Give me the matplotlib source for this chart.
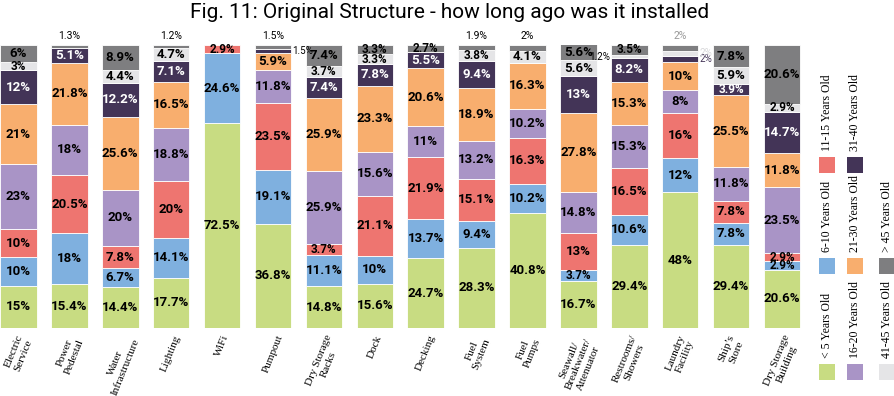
import matplotlib
matplotlib.use('Agg')
import matplotlib.pyplot as plt
from matplotlib.patches import Rectangle
from matplotlib import font_manager

categories = ["Electric\nService", "Power\nPedestal", "Water\nInfrastructure", "Lighting", "WiFi",
              "Pumpout", "Dry Storage\nRacks", "Dock", "Decking", "Fuel\nSystem", "Fuel\nPumps",
              "Seawall/\nBreakwater/\nAttenuator", "Restrooms/\nShowers", "Laundry\nFacility",
              "Ship\u2019s\nStore", "Dry Storage\nBuilding"]
series_names = ["< 5 Years Old", "6-10 Years Old", "11-15 Years Old", "16-20 Years Old",
                "21-30 Years Old", "31-40 Years Old", "41-45 Years Old", "> 45 Years Old"]
lt5    = [15, 15.4, 14.4, 17.7, 72.5, 36.8, 14.8, 15.6, 24.7, 28.3, 40.8, 16.7, 29.4, 48, 29.4, 20.6]
y6_10  = [10, 18, 6.7, 14.1, 24.6, 19.1, 11.1, 10, 13.7, 9.4, 10.2, 3.7, 10.6, 12, 7.8, 2.9]
y11_15 = [10, 20.5, 7.8, 20, 2.9, 23.5, 3.7, 21.1, 21.9, 15.1, 16.3, 13, 16.5, 16, 7.8, 2.9]
y16_20 = [23, 18, 20, 18.8, 0, 11.8, 25.9, 15.6, 11, 13.2, 10.2, 14.8, 15.3, 8, 11.8, 23.5]
y21_30 = [21, 21.8, 25.6, 16.5, 0, 5.9, 25.9, 23.3, 20.6, 18.9, 16.3, 27.8, 15.3, 10, 25.5, 11.8]
y31_40 = [12, 5.1, 12.2, 7.1, 0, 1.5, 7.4, 7.8, 5.5, 9.4, 0, 13, 8.2, 2, 3.9, 14.7]
y41_45 = [3, 0, 4.4, 4.7, 0, 0, 3.7, 3.3, 0, 3.8, 4.1, 5.6, 1.2, 2, 5.9, 2.9]
gt45   = [6, 1.3, 8.9, 1.2, 0, 1.5, 7.4, 3.3, 2.7, 1.9, 2, 5.6, 3.5, 2, 7.8, 20.6]
series = [lt5, y6_10, y11_15, y16_20, y21_30, y31_40, y41_45, gt45]

colors = ["#C8DC82", "#7FB0DF", "#EE7570", "#A994C6", "#F8AE6E", "#433457", "#E5E5E7", "#7E7E80"]

avail = {f.name for f in font_manager.fontManager.ttflist}
narrow = 'Liberation Sans Narrow' if 'Liberation Sans Narrow' in avail else 'Roboto'
serif = 'Liberation Serif'

W, H = 895, 396
fig = plt.figure(figsize=(W / 100, H / 100), dpi=100)
pitch = 50.9
left_px, right_px = 0, 810
top_px, bot_px = 45, 328
ax = fig.add_axes([left_px / W, 1 - bot_px / H, (right_px - left_px) / W, (bot_px - top_px) / H])
x0 = -18.5 / pitch
ax.set_xlim(x0, x0 + (right_px - left_px) / pitch)
ax.set_ylim(0, 100)
ax.axis('off')
bw = 36.5 / pitch

# label placement overrides for thin segments: (cat, series) -> (where, color)
overrides = {
    (5, 5): ('right', 'black'),
    (12, 6): ('left', 'black'),
    (13, 5): ('right', '#433457'),
    (13, 6): ('right', '#D8D8DA'),
    (13, 7): ('above', '#999999'),
}

n = len(categories)
for i in range(n):
    bottom = 0
    top_series = max(s for s in range(len(series)) if series[s][i] > 0)
    for s, vals in enumerate(series):
        v = vals[i]
        if v <= 0:
            continue
        ax.bar(i, v, bottom=bottom, width=bw, color=colors[s], edgecolor='white', linewidth=0.6)
        txt = f"{v:g}%"
        mid = bottom + v / 2
        if (i, s) in overrides:
            where, col = overrides[(i, s)]
        elif v < 2.5 and s == top_series:
            where, col = 'above', 'black'
        else:
            where, col = 'inside', ('white' if s == 5 else 'black')
        if where == 'inside':
            fs = 9.5 if v >= 4 else 8.5
            ax.text(i, mid, txt, ha='center', va='center', fontsize=fs, fontweight='bold',
                    family=narrow, color=col)
        elif where == 'above':
            ax.text(i, 101.5, txt, ha='center', va='bottom', fontsize=7.5,
                    family=narrow, color=col, clip_on=False)
        elif where == 'right':
            ax.text(i + bw / 2 + 0.02, mid, txt, ha='left', va='center', fontsize=7,
                    family=narrow, color=col, clip_on=False)
        elif where == 'left':
            ax.text(i - bw / 2 - 0.02, mid, txt, ha='right', va='center', fontsize=7,
                    family=narrow, color=col, clip_on=False)
        bottom += v
    ax.text(i, -2.0, categories[i], rotation=68, ha='center', va='top', fontsize=8,
            family=serif, multialignment='center', clip_on=False)

fig.text(450 / W, 1 - 13 / H, "Fig. 11: Original Structure - how long ago was it installed",
         ha='center', va='center', fontsize=15, family=narrow)

# legend
col_x = [827, 855, 887]
row_y = [372, 266, 165]
sq = 16
for k, name in enumerate(series_names):
    c = k // 3
    r = k % 3
    cx, cy = col_x[c], row_y[r]
    fig.patches.append(Rectangle(((cx - sq / 2) / W, 1 - (cy + sq / 2) / H), sq / W, sq / H,
                                 transform=fig.transFigure, facecolor=colors[k], edgecolor='none'))
    fig.text(cx / W, 1 - (cy - sq / 2 - 6) / H, name, rotation=90, ha='center', va='bottom',
             fontsize=8.5, family=serif)

fig.savefig('out.png', dpi=100)
